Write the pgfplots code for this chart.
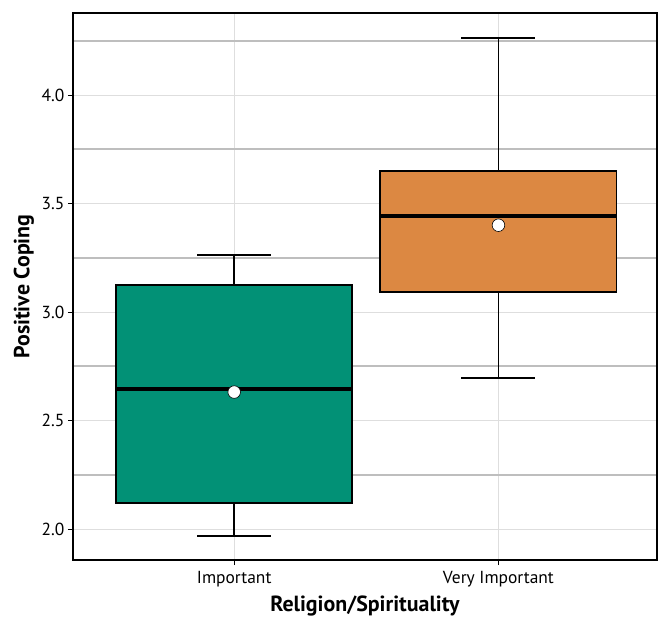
\documentclass[border=0pt]{standalone}
\usepackage{fontspec}
\setmainfont{PT Sans}
\usepackage{pgfplots}
\pgfplotsset{compat=1.18}
\definecolor{tealbox}{RGB}{2,145,118}
\definecolor{orangebox}{RGB}{220,136,66}
\definecolor{majgrid}{RGB}{222,222,222}
\definecolor{mingrid}{RGB}{190,190,190}
\begin{document}
\begin{tikzpicture}
\begin{axis}[
  name=ax,
  scale only axis,
  width=584bp, height=547bp,
  xmin=0.39, xmax=2.60,
  ymin=1.857, ymax=4.378,
  xtick={1,2},
  xticklabels={Important, Very Important},
  ytick={2,2.5,3,3.5,4},
  minor ytick={2.25,2.75,3.25,3.75,4.25},
  yticklabel style={/pgf/number format/.cd, fixed, fixed zerofill, precision=1},
  /pgf/number format/assume math mode=true,
  tick label style={font=\fontsize{17.5}{20}\selectfont, black},
  xticklabel style={yshift=-3bp},
  tick align=outside,
  major tick length=5bp,
  minor tick length=0pt,
  tick style={black, line width=0.9pt},
  xtick pos=bottom, ytick pos=left,
  grid=both,
  major grid style={majgrid, line width=0.8pt},
  minor grid style={mingrid, line width=1.6pt},
  axis line style={black, line width=1.1pt},
  xlabel={\textbf{Religion/Spirituality}},
  ylabel={\textbf{Positive Coping}},
  label style={font=\fontsize{22}{26}\selectfont},
  xlabel style={yshift=-2bp},
  ylabel style={yshift=1bp},
]
% Important: whiskers
\addplot[black, line width=1.8pt] coordinates {(1,1.968) (1,2.12)};
\addplot[black, line width=1.8pt] coordinates {(1,3.124) (1,3.263)};
\addplot[black, line width=1.8pt] coordinates {(0.86,1.968) (1.14,1.968)};
\addplot[black, line width=1.8pt] coordinates {(0.86,3.263) (1.14,3.263)};
% Important: box
\addplot[fill=tealbox, draw=black, line width=1.8pt] coordinates {(0.553,2.12) (1.447,2.12) (1.447,3.124) (0.553,3.124)} -- cycle;
\addplot[black, line width=3.2pt] coordinates {(0.553,2.645) (1.447,2.645)};
% Very Important: whiskers
\addplot[black, line width=1.8pt] coordinates {(2,2.696) (2,3.092)};
\addplot[black, line width=1.8pt] coordinates {(2,3.65) (2,4.263)};
\addplot[black, line width=1.8pt] coordinates {(1.86,2.696) (2.14,2.696)};
\addplot[black, line width=1.8pt] coordinates {(1.86,4.263) (2.14,4.263)};
% Very Important: box
\addplot[fill=orangebox, draw=black, line width=1.8pt] coordinates {(1.553,3.092) (2.447,3.092) (2.447,3.65) (1.553,3.65)} -- cycle;
\addplot[black, line width=3.2pt] coordinates {(1.553,3.442) (2.447,3.442)};
% means
\addplot[only marks, mark=*, mark size=6.3bp, mark options={fill=white, draw=black, line width=0.6pt}]
  coordinates {(1,2.631) (2,3.40)};
\end{axis}
\pgfresetboundingbox
\path ([shift={(-73bp,-59bp)}]ax.south west) rectangle ([shift={(5bp,13bp)}]ax.north east);
\end{tikzpicture}
\end{document}
